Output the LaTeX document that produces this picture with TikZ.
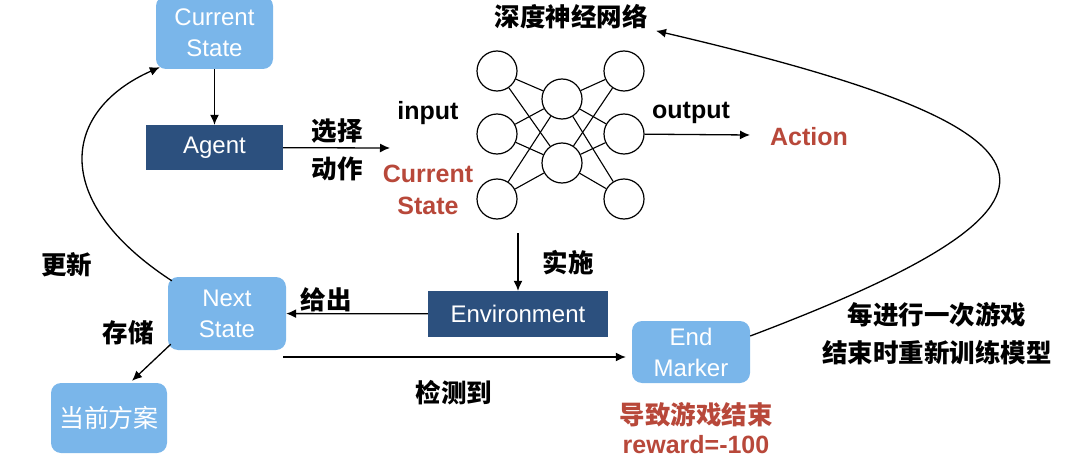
\documentclass[tikz,border=0pt]{standalone}
\usepackage{fontspec}
\setmainfont{Liberation Sans}
\newfontfamily\cjk{Noto Sans CJK SC}
\usepackage{tikz}
\usetikzlibrary{arrows.meta,positioning,calc}
\definecolor{stateblue}{RGB}{122,182,234}
\definecolor{navy}{RGB}{44,80,126}
\definecolor{alertred}{RGB}{184,72,58}
\tikzset{
  state/.style={fill=stateblue, rounded corners=10pt, text=white, align=center,
                font=\fontsize{24}{31}\selectfont, inner sep=0pt},
  block/.style={fill=navy, text=white, font=\fontsize{24}{30}\selectfont, inner sep=0pt},
  neuron/.style={circle, draw, line width=1.2pt, minimum size=40pt, inner sep=0pt},
  lbl/.style={font=\cjk\bfseries\fontsize{25.5}{38}\selectfont, align=center},
  eng/.style={font=\bfseries\fontsize{25}{32}\selectfont, align=center},
  hot/.style={eng, text=alertred},
  flow/.style={-{Latex[length=10pt,width=9pt]}, line width=1.3pt},
}

\begin{document}
\begin{tikzpicture}[x=1pt, y=-1pt]
\useasboundingbox (0,0) rectangle (1080,460);
% boxes
\node[state, minimum width=117pt, minimum height=73pt] (cur) at (214.5,32.5) {Current\\State};
\node[block, minimum width=137pt, minimum height=45pt] (agent) at (214.5,147.5) {Agent};
\node[block, minimum width=180pt, minimum height=46pt] (env) at (518,314) {Environment};
\node[state, minimum width=118pt, minimum height=73pt] (next) at (227,313.5) {Next\\State};
\node[state, minimum width=116pt, minimum height=70pt, font=\cjk\fontsize{25}{30}\selectfont] (plan) at (109,418) {当前方案};
\node[state, minimum width=118pt, minimum height=62pt] (endm) at (691,352) {End\\Marker};
% network
\node[neuron] (i1) at (497,71) {};
\node[neuron] (i2) at (497,134) {};
\node[neuron] (i3) at (497,199) {};
\node[neuron] (h1) at (562,99) {};
\node[neuron] (h2) at (562,163) {};
\node[neuron] (o1) at (624,71) {};
\node[neuron] (o2) at (624,134) {};
\node[neuron] (o3) at (624,199) {};
\foreach \a in {i1,i2,i3} \foreach \b in {h1,h2} \draw[line width=1.1pt] (\a) -- (\b);
\foreach \a in {h1,h2} \foreach \b in {o1,o2,o3} \draw[line width=1.1pt] (\a) -- (\b);
% labels
\node[lbl] (nnname) at (571,17) {深度神经网络};
\node[eng] (inlbl) at (428,113) {input};
\node[hot] (instate) at (428,190) {Current\\State};
\node[eng] (outlbl) at (691,113) {output};
\node[hot] (act) at (809,137) {Action};
\node[lbl] (pick) at (337,150) {选择\\动作};
\node[lbl] (upd) at (67,265) {更新};
\node[lbl] (save) at (128,333) {存储};
\node[lbl] (give) at (326,300) {给出};
\node[lbl] (apply) at (568,263) {实施};
\node[lbl] (detect) at (454,393) {检测到};
\node[lbl] (retrain) at (937,334) {每进行一次游戏\\结束时重新训练模型};
\node[lbl, text=alertred] (over) at (696,415) {导致游戏结束};
\node[hot] (rew) at (696,445) {reward=-100};
% arrows
\coordinate (inp) at (390,148);
\coordinate (outp) at (750,135);
\coordinate (down) at (518,233);
\coordinate (det) at (283,357);
\draw[flow] (cur) -- (agent);
\draw[flow] (agent) -- (inp);
\draw[flow] (o2) -- (outp);
\draw[flow] (down) -- (env);
\draw[flow] (env) -- (next);
\draw[flow, shorten >=6pt] (det) -- (det -| endm.west);
\draw[flow] ($(next.south west)+(3,-6)$) -- ($(plan.north)+(23,-2)$);
\draw[flow] ($(next.north west)+(4,4)$) .. controls (48,200) and (63,110) .. ($(cur.south west)+(4,-2)$);
\draw[flow] ($(endm.east)+(0,-16)$) .. controls (1110,200) and (1080,130) .. ($(nnname.south east)+(5,-2)$);
\end{tikzpicture}
\end{document}
